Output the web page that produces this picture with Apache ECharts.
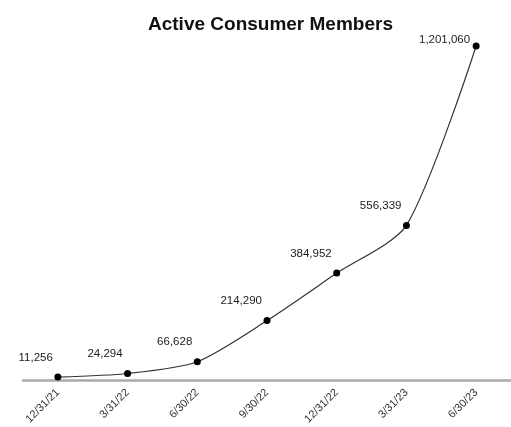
<!DOCTYPE html>
<html>
<head>
<meta charset="utf-8">
<script src="https://cdn.jsdelivr.net/npm/echarts@6/dist/echarts.min.js"></script>
<style>
  html, body { margin: 0; padding: 0; background: #fff; }
  #chart { width: 511px; height: 427px; }
</style>
</head>
<body>
<div id="chart"></div>
<script>
// quarter ends
const quarters = ['12/31/21', '3/31/22', '6/30/22', '9/30/22', '12/31/22', '3/31/23', '6/30/23']
// active consumer members
const members = [11256, 24294, 66628, 214290, 384952, 556339, 1201060]

const chart = echarts.init(document.getElementById('chart'))

const seriesData = members.map((v, i) => {
    // last label sits close to the top edge, nudge it down
    if (i === members.length - 1) return { value: v, label: { offset: [-6, 8] } }
    return v
})

const option = {
    animation: false,
    title: {
        text: 'Active Consumer Members',
        left: 143,
        top: 10,
        textStyle: { fontFamily: 'Liberation Sans', fontWeight: 'bold', fontSize: 19, color: '#111' }
    },
    grid: { left: 23, width: 492, top: 46, bottom: 41 },
    xAxis: {
        type: 'category',
        data: quarters,
        boundaryGap: true,
        axisLine: { lineStyle: { color: '#aaa', width: 2.5 } },
        axisTick: { show: false },
        axisLabel: {
            rotate: 45,
            interval: 0,
            margin: 7,
            fontFamily: 'Liberation Sans',
            fontSize: 11,
            color: '#333'
        }
    },
    yAxis: {
        type: 'value',
        min: -12500,
        max: 1201060,
        show: false,
        splitLine: { show: false }
    },
    series: [{
        type: 'line',
        data: seriesData,
        smooth: 0.25,
        symbol: 'circle',
        symbolSize: 7,
        itemStyle: { color: '#000' },
        lineStyle: { color: '#333', width: 1.2 },
        label: {
            show: true,
            position: 'top',
            align: 'right',
            offset: [-5, -5],
            fontFamily: 'Liberation Sans',
            fontSize: 11.5,
            color: '#222',
            formatter: p => p.value.toLocaleString('en-US')
        }
    }]
}

chart.setOption(option)
</script>
</body>
</html>
